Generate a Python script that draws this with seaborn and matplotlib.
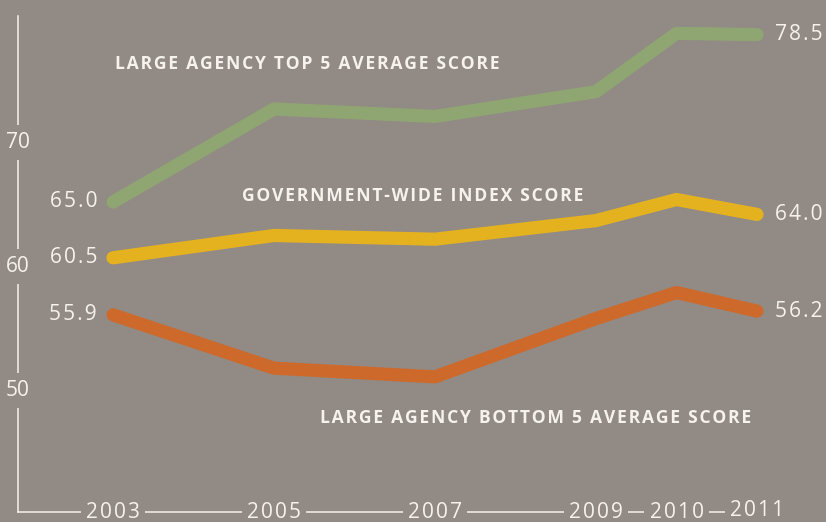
"""Government-wide index vs large agency top/bottom 5 average scores, 2003-2011."""
import matplotlib
matplotlib.use("Agg")
import matplotlib.pyplot as plt
import pandas as pd
import seaborn as sns

YEARS = [2003, 2005, 2007, 2009, 2010, 2011]
TOP5 = [65.0, 72.5, 71.9, 73.9, 78.6, 78.5]
GOVWIDE = [60.5, 62.3, 62.0, 63.5, 65.2, 64.0]
BOTTOM5 = [55.9, 51.6, 50.9, 55.6, 57.7, 56.2]
Y_TICKS = [50, 60, 70]

SERIES = ["top", "gov", "bottom"]
SERIES_TEXT = {
    "top": "LARGE AGENCY TOP 5 AVERAGE SCORE",
    "gov": "GOVERNMENT-WIDE INDEX SCORE",
    "bottom": "LARGE AGENCY BOTTOM 5 AVERAGE SCORE",
}

BG = "#928a85"
FG = "#f6f2ed"
PALETTE = {"top": "#8fa672", "gov": "#e5b21f", "bottom": "#cd6a2b"}

sns.set_style("white")
plt.rcParams["font.family"] = ["Open Sans", "DejaVu Sans"]


def spaced(s: str, gap: str = "\u200a") -> str:
    return gap.join(s)


df = pd.DataFrame({
    "year": YEARS * 3,
    "score": TOP5 + GOVWIDE + BOTTOM5,
    "series": sum([[s] * len(YEARS) for s in SERIES], []),
})

fig = plt.figure(figsize=(8.26, 5.22), dpi=100, facecolor=BG)
ax = fig.add_axes([18 / 826, 10 / 522, 808 / 826, 496 / 522])
ax.set_facecolor(BG)

sns.lineplot(data=df, x="year", y="score", hue="series", palette=PALETTE,
             lw=9.5, solid_capstyle="round", solid_joinstyle="round",
             legend=False, ax=ax)

ax.set_xlim(2003 - 95 / 80.5, 2011 + 69 / 80.5)
ax.set_ylim(40, 80)
ax.set_xticks([])
ax.set_yticks([])
ax.set_xlabel("")
ax.set_ylabel("")
for side in ("top", "right"):
    ax.spines[side].set_visible(False)
for side in ("left", "bottom"):
    ax.spines[side].set_color(FG)
    ax.spines[side].set_linewidth(1.1)
ax.spines["bottom"].set_bounds(ax.get_xlim()[0], 2011)

box = dict(boxstyle="square,pad=0.25", fc=BG, ec="none")

# axis labels sit on top of the axis lines, breaking them
for v in Y_TICKS:
    ax.text(ax.get_xlim()[0], v - 0.2, str(v), ha="center", va="center", fontsize=15,
            color=FG, bbox=dict(boxstyle="square,pad=0.35", fc=BG, ec="none"),
            clip_on=False, zorder=5)
for yr in YEARS:
    ax.text(yr, 40 + (0.12 if yr == 2011 else -0.05), spaced(str(yr)), ha="center",
            va="center", fontsize=15, color=FG, bbox=box, clip_on=False, zorder=5)

# start / end values
for vals in (TOP5, GOVWIDE, BOTTOM5):
    ax.annotate(spaced(f"{vals[0]:.1f}"), (YEARS[0], vals[0]), xytext=(-11.5, 0),
                textcoords="offset points", ha="right", va="center",
                fontsize=15, color=FG)
    ax.annotate(spaced(f"{vals[-1]:.1f}"), (YEARS[-1], vals[-1]), xytext=(13, 0),
                textcoords="offset points", ha="left", va="center",
                fontsize=15, color=FG)

label_kw = dict(va="center", fontsize=12.6, fontweight="bold", color=FG)
ax.text(2003.03, 76.1, spaced(SERIES_TEXT["top"]), ha="left", **label_kw)
ax.text(2004.6, 65.5, spaced(SERIES_TEXT["gov"]), ha="left", **label_kw)
ax.text(2010.93, 47.6, spaced(SERIES_TEXT["bottom"]), ha="right", **label_kw)

fig.savefig("out.png", dpi=100, facecolor=BG)
